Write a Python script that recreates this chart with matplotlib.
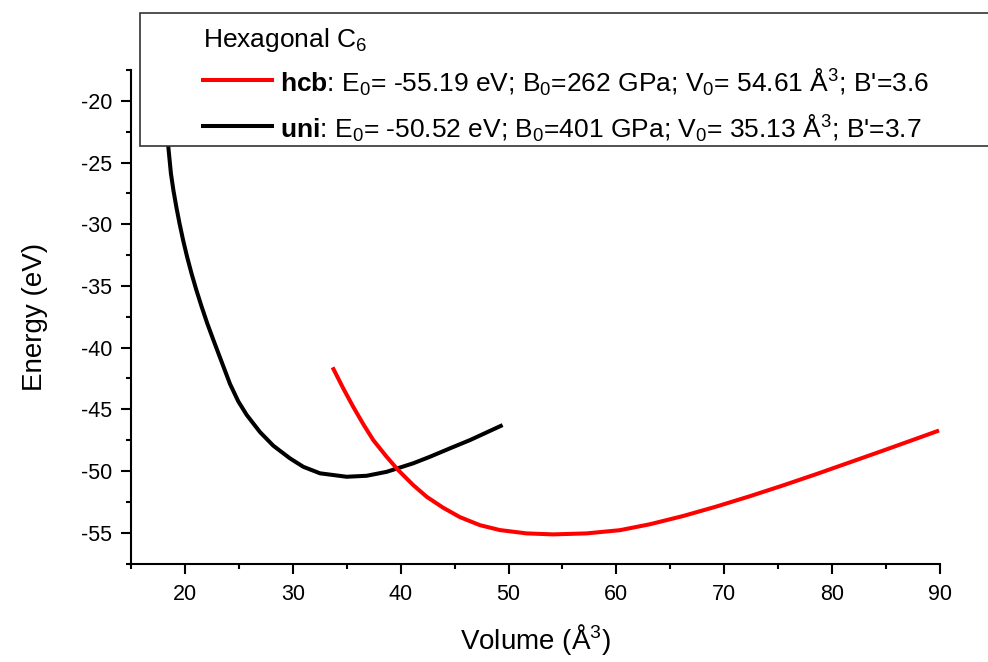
import matplotlib
matplotlib.use("Agg")
import matplotlib.pyplot as plt
from matplotlib.patches import Rectangle
from matplotlib.lines import Line2D
from matplotlib.ticker import MultipleLocator

plt.rcParams['font.family'] = ['Liberation Sans', 'DejaVu Sans']
plt.rcParams['mathtext.fontset'] = 'custom'
plt.rcParams['mathtext.rm'] = 'Liberation Sans'
plt.rcParams['mathtext.it'] = 'Liberation Sans:italic'
plt.rcParams['mathtext.bf'] = 'Liberation Sans:bold'
plt.rcParams['axes.unicode_minus'] = False

# Data
uni_volume = [18.0, 18.46, 18.70, 18.93, 19.20, 19.50, 19.83, 20.20, 20.61, 21.06,
              21.55, 22.07, 22.64, 23.27, 24.18, 24.94, 25.72, 26.96, 28.19, 29.74,
              30.97, 32.52, 34.99, 36.84, 38.70, 41.16, 42.71, 44.56, 46.42, 49.45]
uni_energy = [-20.3, -23.73, -25.88, -27.24, -28.59, -29.94, -31.29, -32.64, -33.99, -35.34,
              -36.69, -38.04, -39.39, -40.85, -42.95, -44.35, -45.45, -46.85, -47.95, -48.98,
              -49.66, -50.19, -50.47, -50.39, -50.07, -49.38, -48.85, -48.17, -47.50, -46.28]

hcb_volume = [33.69, 34.68, 35.60, 36.53, 37.46, 38.70, 39.77, 41.16, 42.41, 43.94,
              45.49, 47.34, 49.20, 51.67, 54.14, 57.23, 60.32, 63.10, 66.19, 69.28,
              72.36, 75.45, 78.55, 81.64, 84.72, 87.82, 89.91]
hcb_energy = [-41.60, -43.31, -44.80, -46.20, -47.50, -48.85, -49.93, -51.14, -52.09, -52.98,
              -53.74, -54.39, -54.79, -55.06, -55.14, -55.06, -54.80, -54.32, -53.65, -52.88,
              -52.05, -51.17, -50.25, -49.30, -48.35, -47.38, -46.72]

legend_title = "Hexagonal C$_6$"
hcb_label = r"$\mathbf{hcb}$: E$_0$= -55.19 eV; B$_0$=262 GPa; V$_0$= 54.61 Å$^3$; B'=3.6"
uni_label = r"$\mathbf{uni}$: E$_0$= -50.52 eV; B$_0$=401 GPa; V$_0$= 35.13 Å$^3$; B'=3.7"

W, H = 988, 662
fig = plt.figure(figsize=(W/100, H/100), dpi=100)
ax = fig.add_axes([131/W, 1-563.5/H, (940-131)/W, (563.5-70)/H])

ax.plot(uni_volume, uni_energy, color='black', lw=2.9, solid_capstyle='butt',
        solid_joinstyle='round')
ax.plot(hcb_volume, hcb_energy, color='#ff0000', lw=2.9, solid_capstyle='butt',
        solid_joinstyle='round')

ax.set_xlim(15, 90)
ax.set_ylim(-57.5, -17.5)
ax.xaxis.set_major_locator(MultipleLocator(10))
ax.xaxis.set_minor_locator(MultipleLocator(5))
ax.yaxis.set_major_locator(MultipleLocator(5))
ax.yaxis.set_minor_locator(MultipleLocator(2.5))
ax.spines['top'].set_visible(False)
ax.spines['right'].set_visible(False)
for s in ('left', 'bottom'):
    ax.spines[s].set_linewidth(1.5)
ax.tick_params(which='major', direction='out', length=7, width=1.5, labelsize=15.5)
ax.tick_params(which='minor', direction='out', length=3.6, width=1.5)
ax.tick_params(axis='x', which='major', pad=8)
ax.tick_params(axis='y', which='major', pad=6.5)
ax.set_xticks([20, 30, 40, 50, 60, 70, 80, 90])
ax.set_yticks([-55, -50, -45, -40, -35, -30, -25, -20])
ax.set_xlabel("Volume (Å$^3$)", fontsize=20, labelpad=12)
ax.set_ylabel("Energy (eV)", fontsize=20, labelpad=24)

# Legend box (figure pixels)
def fx(px):
    return px / W

def fy(py):
    return 1 - py / H

rect = Rectangle((fx(140), fy(146)), fx(1000) - fx(140), fy(13) - fy(146),
                 transform=fig.transFigure, facecolor='white', edgecolor='#333333',
                 lw=1.2, clip_on=False, zorder=5)
fig.add_artist(rect)
fig.text(fx(203), fy(40), legend_title, fontsize=19, va='center', ha='left', zorder=6)
fig.add_artist(Line2D([fx(203), fx(272)], [fy(80), fy(80)], color='#ff0000', lw=2.9,
                      transform=fig.transFigure, zorder=6))
fig.add_artist(Line2D([fx(203), fx(272)], [fy(126), fy(126)], color='black', lw=2.9,
                      transform=fig.transFigure, zorder=6))
fig.text(fx(280), fy(82), hcb_label, fontsize=19, va='center', ha='left', zorder=6)
fig.text(fx(280), fy(128), uni_label, fontsize=19, va='center', ha='left', zorder=6)

fig.savefig("out.png", dpi=100)
